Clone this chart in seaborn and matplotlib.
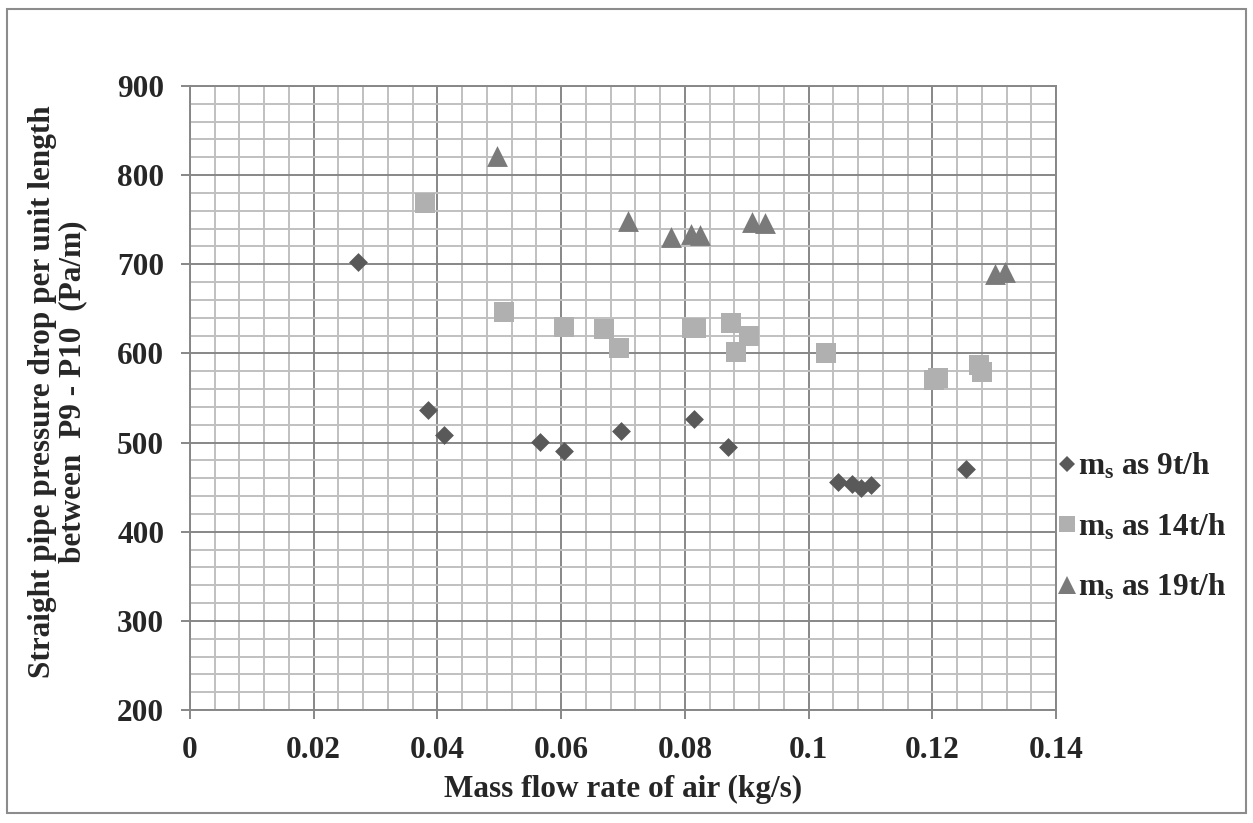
import matplotlib
matplotlib.use("Agg")
import matplotlib.pyplot as plt
import seaborn as sns
import pandas as pd
from matplotlib.lines import Line2D
from matplotlib.patches import Rectangle
from matplotlib.ticker import MultipleLocator, FixedLocator, FixedFormatter

# ---------------- data ----------------
x_9 = [0.0272, 0.0384, 0.0410, 0.0566, 0.0605, 0.0696, 0.0815, 0.0869,
       0.1048, 0.1071, 0.1085, 0.1101, 0.1255]
y_9 = [703, 536, 508, 501, 491, 513, 526, 495, 456, 454, 449, 452, 470]

x_14 = [0.0380, 0.0508, 0.0604, 0.0669, 0.0694, 0.0811, 0.0818, 0.0874,
        0.0883, 0.0904, 0.1028, 0.1203, 0.1209, 0.1275, 0.1281]
y_14 = [769, 647, 630, 627, 606, 629, 629, 634, 602, 619, 601, 570, 572, 587, 579]

x_19 = [0.0497, 0.0708, 0.0777, 0.0810, 0.0825, 0.0908, 0.0929, 0.1301, 0.1318]
y_19 = [821, 749, 731, 734, 733, 747, 746, 689, 691]

series_labels = ["m$_{s}$ as 9t/h", "m$_{s}$ as 14t/h", "m$_{s}$ as 19t/h"]
x_ticks = [0, 0.02, 0.04, 0.06, 0.08, 0.1, 0.12, 0.14]
x_tick_labels = ["0", "0.02", "0.04", "0.06", "0.08", "0.1", "0.12", "0.14"]
y_ticks = [200, 300, 400, 500, 600, 700, 800, 900]
y_tick_labels = ["200", "300", "400", "500", "600", "700", "800", "900"]
x_title = "Mass flow rate of air (kg/s)"
y_title = "Straight pipe pressure drop per unit length\nbetween  P9 - P10  (Pa/m)"

# ---------------- style ----------------
sns.set_theme(style="white")
plt.rcParams.update({
    "font.family": ["Liberation Serif", "DejaVu Serif"],
    "font.weight": "bold",
    "mathtext.fontset": "custom",
    "mathtext.rm": "Liberation Serif:bold",
    "mathtext.it": "Liberation Serif:bold",
    "mathtext.bf": "Liberation Serif:bold",
    "mathtext.default": "rm",
})

colors = ["#595959", "#B0B0B0", "#7A7A7A"]
markers = ["D", "s", "^"]
sizes = [92, 205, 225]

df = pd.concat([
    pd.DataFrame({"x": x_9, "y": y_9, "series": series_labels[0]}),
    pd.DataFrame({"x": x_14, "y": y_14, "series": series_labels[1]}),
    pd.DataFrame({"x": x_19, "y": y_19, "series": series_labels[2]}),
], ignore_index=True)

fig = plt.figure(figsize=(12.53, 8.23), dpi=100)
ax = fig.add_axes([190 / 1253, 1 - 710 / 823, (1056 - 190) / 1253, (710 - 86) / 823])

for lab, c, m, s in zip(series_labels, colors, markers, sizes):
    sub = df[df["series"] == lab]
    sns.scatterplot(data=sub, x="x", y="y", ax=ax, color=c, marker=m, s=s,
                    linewidth=0, legend=False, zorder=3)

ax.set_xlim(0, 0.14)
ax.set_ylim(200, 900)
ax.xaxis.set_major_locator(FixedLocator(x_ticks))
ax.xaxis.set_major_formatter(FixedFormatter(x_tick_labels))
ax.yaxis.set_major_locator(FixedLocator(y_ticks))
ax.yaxis.set_major_formatter(FixedFormatter(y_tick_labels))
ax.xaxis.set_minor_locator(MultipleLocator(0.004))
ax.yaxis.set_minor_locator(MultipleLocator(20))

major_c = "#878787"
minor_c = "#C0C0C0"
ax.set_axisbelow(True)
ax.grid(which="minor", color=minor_c, lw=1.4)
ax.grid(which="major", color=major_c, lw=1.4)
for sp in ax.spines.values():
    sp.set_color(major_c)
    sp.set_linewidth(1.4)

ax.tick_params(which="major", direction="out", length=6.5, width=1.4, color=major_c,
               pad=12, labelsize=22.5, bottom=True, left=True)
ax.tick_params(which="minor", length=0)
for t in ax.get_xticklabels() + ax.get_yticklabels():
    t.set_fontweight("bold")

ax.set_xlabel("")
ax.set_ylabel("")
fig.text(623 / 1253, 1 - 789 / 823, x_title, ha="center", va="center",
         fontsize=22.5, fontweight="bold")
fig.text(58 / 1253, 1 - 392 / 823, y_title, ha="center", va="center",
         rotation=90, multialignment="center", linespacing=1.05,
         fontsize=22.5, fontweight="bold")

handles = [
    Line2D([], [], ls="", marker="D", color=colors[0], markersize=8, markeredgewidth=0),
    Line2D([], [], ls="", marker="s", color=colors[1], markersize=11.5, markeredgewidth=0),
    Line2D([], [], ls="", marker="^", color=colors[2], markersize=12.5, markeredgewidth=0),
]
fig.legend(handles, series_labels, loc="center left",
           bbox_to_anchor=(1058 / 1253, 1 - 527 / 823), frameon=False,
           fontsize=22.5, handlelength=0.6, handletextpad=0.05,
           labelspacing=0.96, borderpad=0, borderaxespad=0)

fig.patches.append(Rectangle((7 / 1253, 1 - 813 / 823), (1246 - 7) / 1253, (813 - 9) / 823,
                             transform=fig.transFigure, fill=False,
                             edgecolor="#8C8C8C", lw=1.5))

fig.savefig("out.png", dpi=100)
